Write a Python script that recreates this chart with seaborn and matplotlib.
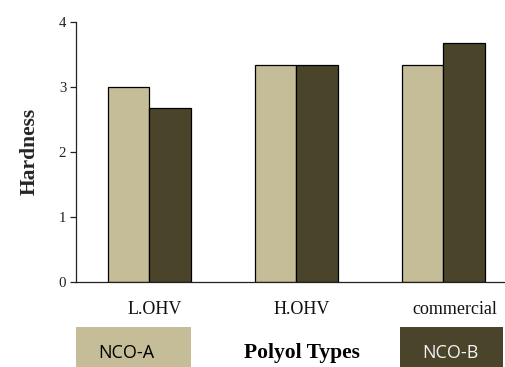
import matplotlib
matplotlib.use("Agg")
import matplotlib.pyplot as plt
import matplotlib.transforms as mtransforms
import seaborn as sns
import pandas as pd
from matplotlib.patches import Rectangle

# Hardness by polyol type for two isocyanate grades
polyols = ["L.OHV", "H.OHV", "commercial"]
nco_a = [3.0, 3.33, 3.33]
nco_b = [2.67, 3.33, 3.67]
series = ["NCO-A", "NCO-B"]
colors = ["#C4BD97", "#4A442A"]
yticks = [0, 1, 2, 3, 4]

df = pd.DataFrame({
    "Polyol": polyols * 2,
    "Hardness": nco_a + nco_b,
    "Series": [series[0]] * len(polyols) + [series[1]] * len(polyols),
})

sns.set_theme(style="white")
serif = ["Liberation Serif", "DejaVu Serif"]

fig = plt.figure(figsize=(5.05, 3.67), dpi=100)
ax = fig.add_axes([0.1505, 0.2316, 0.873, 0.7098])

sns.barplot(data=df, x="Polyol", y="Hardness", hue="Series", order=polyols,
            hue_order=series, palette=colors, width=0.57, gap=0,
            edgecolor="black", linewidth=0.9, saturation=1, legend=False, ax=ax)

ax.set_xlim(-0.5, 2.5)
ax.set_ylim(0, 4)
ax.set_yticks(yticks)
ax.set_yticklabels([str(t) for t in yticks], fontfamily=serif, fontsize=10.7, color="#222222")
ax.set_xticks(range(len(polyols)))
ax.set_xticklabels(polyols, fontfamily=serif, fontsize=13, color="#111111")
ax.set_xticks([-0.5, 0.5, 1.5, 2.5], minor=True)
ax.tick_params(axis="x", which="major", length=0, pad=14)
ax.tick_params(axis="x", which="minor", length=5, width=0.9, color="#222222", direction="out")
ax.tick_params(axis="y", length=4, width=0.9, color="#222222", direction="out", pad=3, left=True)

# nudge category labels slightly to the right
for lbl, dx in zip(ax.get_xticklabels(), [5, 5, 11]):
    lbl.set_transform(lbl.get_transform() +
                      mtransforms.ScaledTranslation(dx / 100, 0, fig.dpi_scale_trans))

ax.set_xlabel("")
ax.set_ylabel("Hardness", fontfamily=serif, fontsize=15.5, fontweight="bold", labelpad=14)

for side in ["top", "right"]:
    ax.spines[side].set_visible(False)
for side in ["left", "bottom"]:
    ax.spines[side].set_color("#222222")
    ax.spines[side].set_linewidth(0.9)

# Colour keys along the bottom edge
fig.patches.append(Rectangle((0.1505, 0.0), 0.2277, 0.109, transform=fig.transFigure,
                             facecolor=colors[0], edgecolor="none"))
fig.patches.append(Rectangle((0.792, 0.0), 0.204, 0.109, transform=fig.transFigure,
                             facecolor=colors[1], edgecolor="none"))
fig.text(0.2495, 0.038, series[0], ha="center", va="center", fontsize=13,
         fontfamily=["Open Sans", "DejaVu Sans"], color="black")
fig.text(0.891, 0.038, series[1], ha="center", va="center", fontsize=13,
         fontfamily=["Open Sans", "DejaVu Sans"], color="#F2F2F2")
fig.text(0.598, 0.038, "Polyol Types", ha="center", va="center", fontsize=15.5,
         fontfamily=serif, fontweight="bold", color="black")

fig.savefig("out.png", dpi=100)
